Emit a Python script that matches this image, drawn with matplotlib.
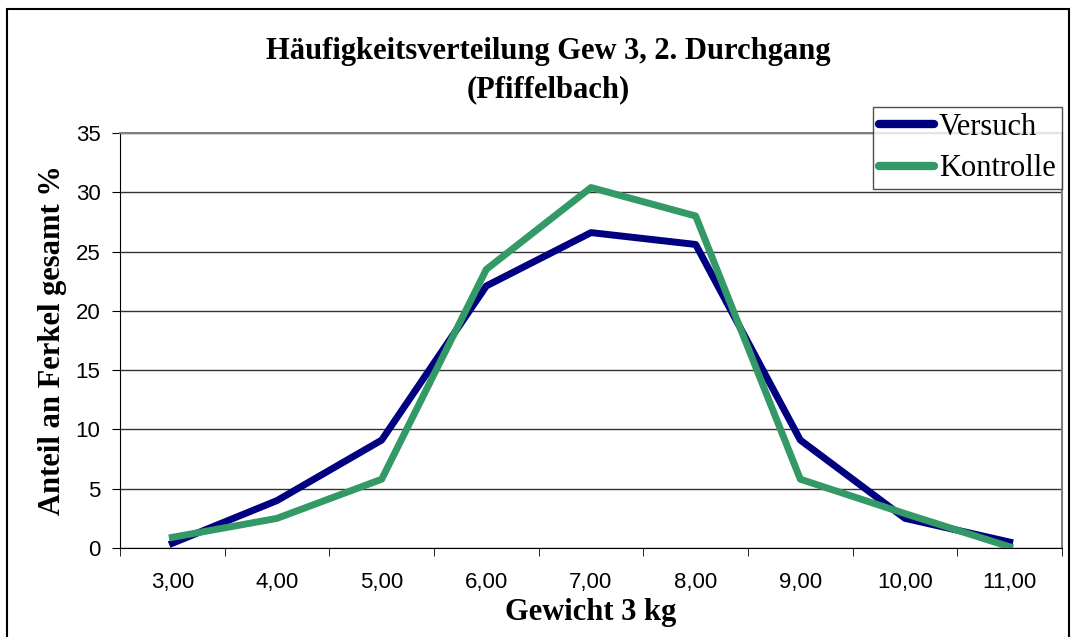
import numpy as np
import matplotlib.pyplot as plt
from matplotlib.patches import Rectangle

# Data
gewicht = ['3,00', '4,00', '5,00', '6,00', '7,00', '8,00', '9,00', '10,00', '11,00']
versuch = [0.4, 4.0, 9.1, 22.1, 26.6, 25.6, 9.1, 2.5, 0.5]
kontrolle = [0.9, 2.5, 5.8, 23.5, 30.4, 28.0, 5.8, 2.9, 0.1]

serif = ['Liberation Serif', 'DejaVu Serif']
sans = ['Liberation Sans', 'DejaVu Sans']

fig = plt.figure(figsize=(10.75, 6.37), dpi=100)
ax = fig.add_axes([120 / 1075, 1 - 548 / 637, 942 / 1075, 415 / 637])

x = np.arange(len(gewicht))
ax.plot(x, versuch, color='#000080', lw=5, label='Versuch')
ax.plot(x, kontrolle, color='#339966', lw=5, label='Kontrolle')

ax.set_xlim(-0.5, len(gewicht) - 0.5)
ax.set_ylim(0, 35)
ax.set_yticks(range(0, 36, 5))
ax.yaxis.grid(True, color='#333333', lw=1)
ax.set_axisbelow(True)

# category axis: labels at centres, tick marks at boundaries
ax.set_xticks(x)
ax.set_xticklabels(gewicht, fontfamily=sans, fontsize=16)
ax.tick_params(axis='x', which='major', length=0, pad=17)
ax.set_xticks(np.arange(-0.5, len(gewicht), 1), minor=True)
ax.tick_params(axis='x', which='minor', length=6, direction='out', color='black')
ax.tick_params(axis='y', length=6, direction='out', labelsize=16, pad=8)
for lab in ax.get_yticklabels():
    lab.set_fontfamily(sans)

ax.spines['top'].set_color('#808080')
ax.spines['right'].set_color('#808080')
ax.spines['top'].set_linewidth(1.5)
ax.spines['right'].set_linewidth(1.5)

ax.set_xlabel('Gewicht 3 kg', fontfamily=serif, fontsize=22, fontweight='bold', labelpad=4)
ax.set_ylabel('Anteil an Ferkel gesamt %', fontfamily=serif, fontsize=22, fontweight='bold', labelpad=6)

fig.text(548 / 1075, 1 - 52 / 637, 'Häufigkeitsverteilung Gew 3, 2. Durchgang',
         ha='center', va='center', fontfamily=serif, fontsize=22, fontweight='bold')
fig.text(548 / 1075, 1 - 90 / 637, '(Pfiffelbach)',
         ha='center', va='center', fontfamily=serif, fontsize=22, fontweight='bold')

leg = fig.legend(loc='upper left', bbox_to_anchor=(873 / 1075, 1 - 107 / 637),
                 prop={'family': serif, 'size': 22}, frameon=True, fancybox=False,
                 borderpad=0.2, handlelength=1.8, handletextpad=0.15, labelspacing=0.4,
                 borderaxespad=0)
leg.get_frame().set_edgecolor('#222222')
leg.get_frame().set_linewidth(1)
for h in leg.get_lines():
    h.set_solid_capstyle('round')
    h.set_linewidth(6)

# outer chart border
fig.patches.append(Rectangle((7 / 1075, -0.01), 1062 / 1075, 1 - 9 / 637 + 0.01,
                             transform=fig.transFigure, fill=False, edgecolor='black', lw=1.5))

fig.savefig('out.png', dpi=100)
